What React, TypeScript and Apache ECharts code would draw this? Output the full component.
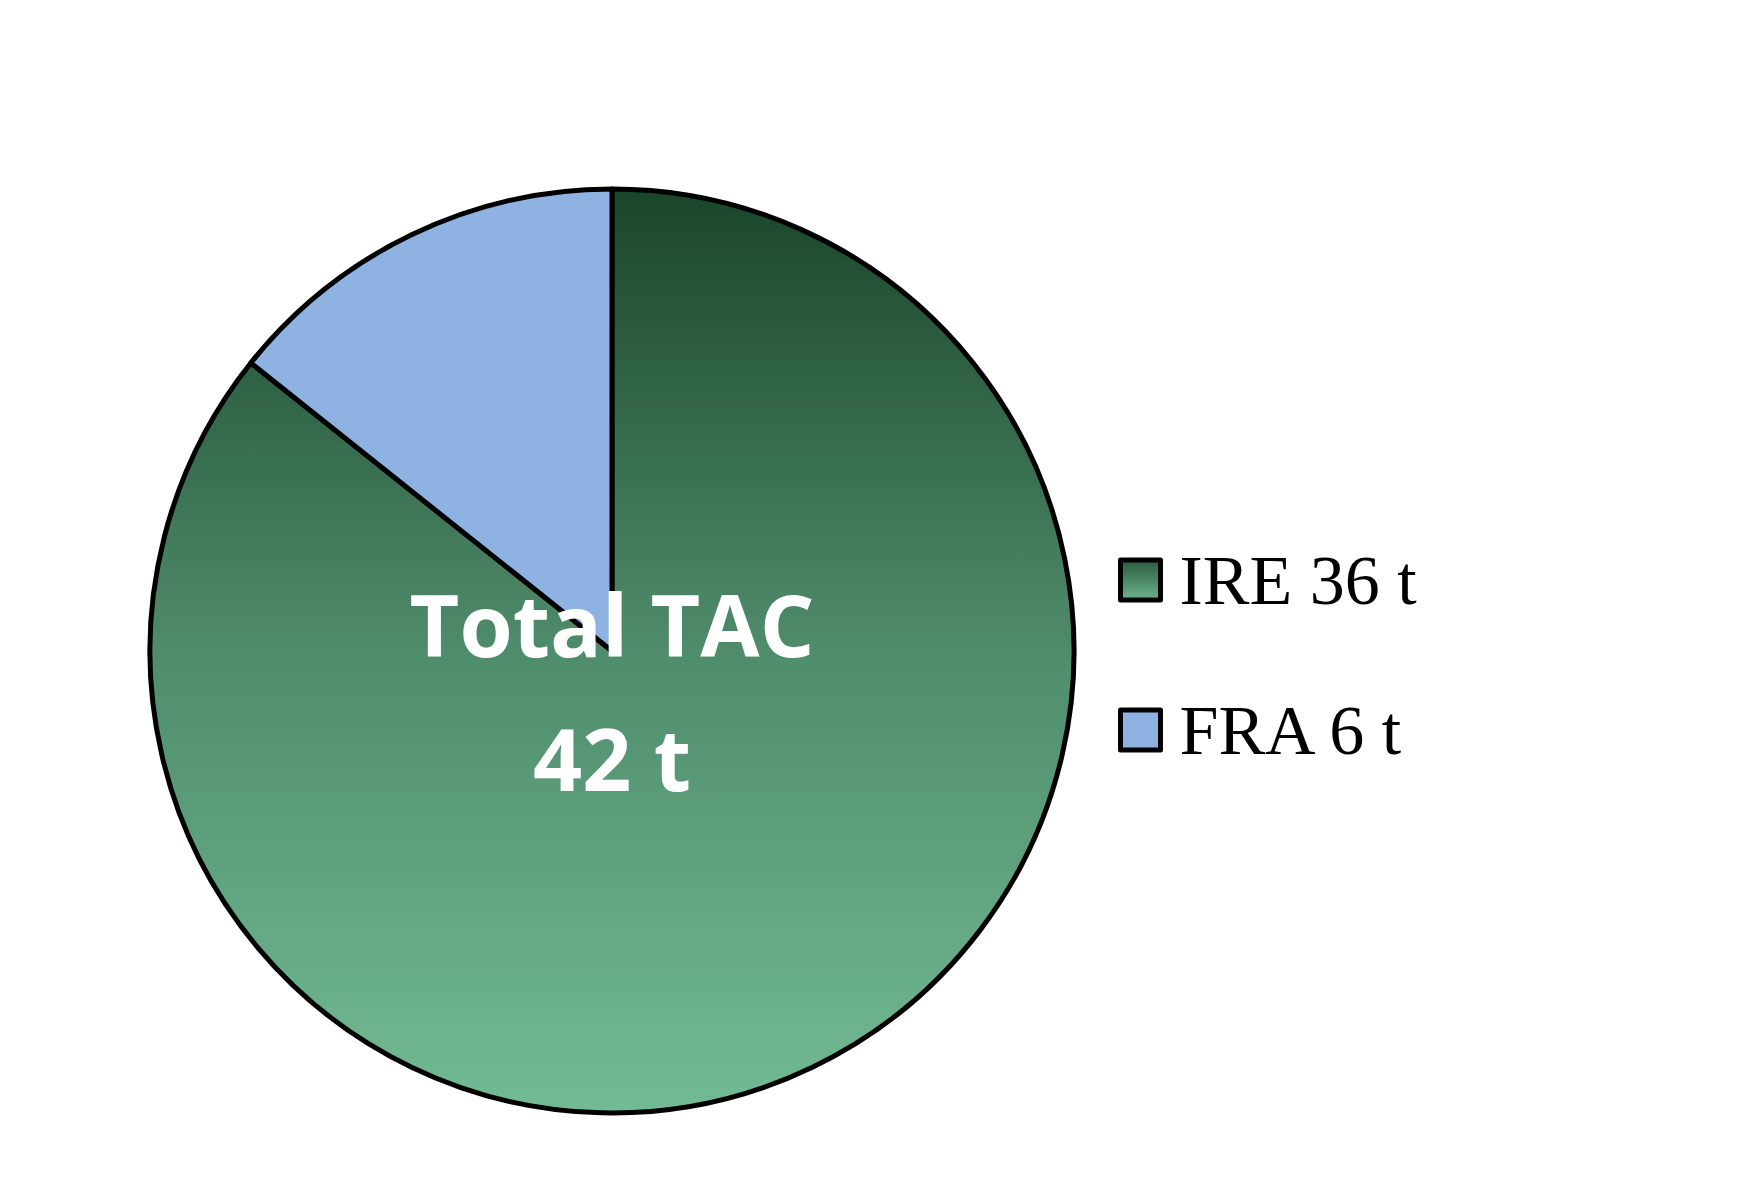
import { useEffect, useRef } from "react";
import * as echarts from "echarts";

const countries = ["IRE", "FRA"];
const tonnes = [36, 6];
const totalLabel = ["Total TAC", "42 t"];

export default function App() {
  const ref = useRef<HTMLDivElement | null>(null);

  useEffect(() => {
    document.body.style.margin = "0";
    if (!ref.current) return;
    const chart = echarts.init(ref.current, null, { renderer: "svg" });

    const cx = 612, cy = 651, r = 462;
    const greenGlobal = new echarts.graphic.LinearGradient(0, cy - r, 0, cy + r, [
      { offset: 0, color: "#1a452b" },
      { offset: 0.5, color: "#4f8c6b" },
      { offset: 1, color: "#72bb95" },
    ], true);
    const greenLocal = new echarts.graphic.LinearGradient(0, 0, 0, 1, [
      { offset: 0, color: "#2a5a3e" },
      { offset: 1, color: "#6cb48f" },
    ]);
    const colors = [greenGlobal, "#8eb3e2"];
    const legendColors = [greenLocal, "#8eb3e2"];

    chart.setOption({
      animation: false,
      legend: {
        orient: "vertical",
        left: 1113,
        top: 540,
        itemWidth: 40,
        itemHeight: 40,
        itemGap: 80,
        icon: "rect",
        textStyle: { fontFamily: "Liberation Serif", fontSize: 70, color: "#000", padding: [0, 0, 0, 14] },
        data: countries.map((c, i) => ({
          name: `${c} ${tonnes[i]} t`,
          itemStyle: { color: legendColors[i], borderColor: "#000", borderWidth: 5 },
        })),
      },
      graphic: totalLabel.map((t, i) => ({
        type: "text",
        x: cx,
        y: 623 + i * 134,
        style: {
          text: t,
          fill: "#fff",
          font: "bold 86px 'Open Sans'",
          align: "center",
          verticalAlign: "middle",
        },
        z: 10,
      })),
      series: [
        {
          type: "pie",
          center: [cx, cy],
          radius: [0, r],
          startAngle: 90,
          clockwise: true,
          label: { show: false },
          labelLine: { show: false },
          itemStyle: { borderColor: "#000", borderWidth: 5 },
          emphasis: { disabled: true },
          data: countries.map((c, i) => ({
            name: `${c} ${tonnes[i]} t`,
            value: tonnes[i],
            itemStyle: { color: colors[i] },
          })),
        },
      ],
    });

    return () => chart.dispose();
  }, []);

  return <div ref={ref} style={{ width: 1750, height: 1194 }} />;
}
